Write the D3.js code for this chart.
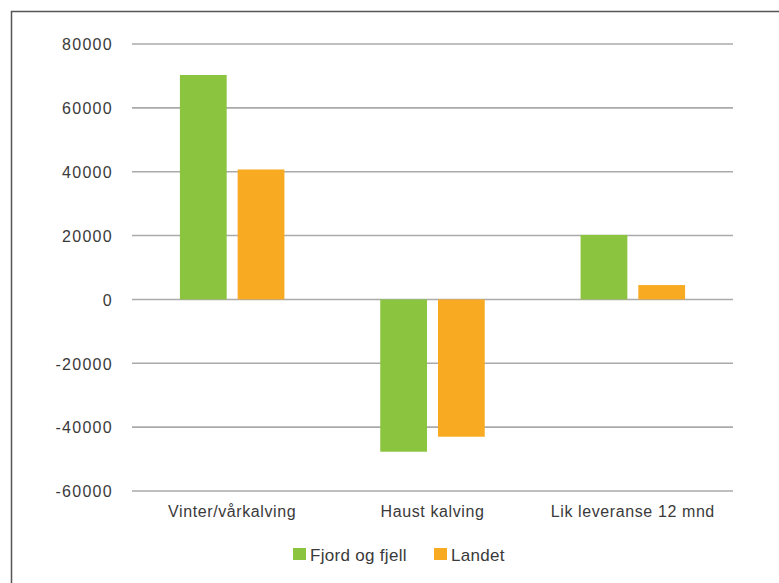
<!DOCTYPE html>
<html>
<head>
<meta charset="utf-8">
<script src="https://cdn.jsdelivr.net/npm/d3@7"></script>
<style>
  body { margin: 0; background: #fff; }
  text { font-family: "Liberation Sans", Helvetica, Arial, sans-serif; fill: #3a3a3a; }
</style>
</head>
<body>
<div id="chart"></div>
<script>
// data
var categories = ["Vinter/vårkalving", "Haust kalving", "Lik leveranse 12 mnd"];
var seriesNames = ["Fjord og fjell", "Landet"];
var fjordOgFjell = [70300, -47700, 20200];
var landet = [40700, -43000, 4500];
var yTicks = [-60000, -40000, -20000, 0, 20000, 40000, 60000, 80000];
var colors = ["#8bc53f", "#f8aa22"];

var W = 779, H = 583;
var plotLeft = 132, plotRight = 733, plotTop = 44, plotBottom = 491;

var svg = d3.select("#chart").append("svg")
    .attr("width", W)
    .attr("height", H);

// outer frame (cut off at right and bottom)
svg.append("path")
    .attr("d", "M11.5," + H + "V11.5H" + W)
    .attr("fill", "none")
    .attr("stroke", "#555")
    .attr("stroke-width", 1.5);

var y = d3.scaleLinear()
    .domain([-60000, 80000])
    .range([plotBottom, plotTop]);

var x0 = d3.scaleBand()
    .domain(categories)
    .range([plotLeft, plotRight])
    .padding(0);

var x1 = d3.scaleBand()
    .domain(seriesNames)
    .range([0, x0.bandwidth()])
    .paddingInner(0.19)
    .paddingOuter(0.83);

// gridlines
svg.append("g").selectAll("line")
    .data(yTicks)
    .join("line")
    .attr("x1", plotLeft)
    .attr("x2", plotRight)
    .attr("y1", d => y(d))
    .attr("y2", d => y(d))
    .attr("stroke", "#aaa")
    .attr("stroke-width", 1.6);

// y labels (plain hyphen for negatives, like the original)
var yAxis = svg.append("g")
    .attr("transform", "translate(" + 113 + ",0)")
    .call(d3.axisLeft(y).tickValues(yTicks).tickSize(0).tickPadding(0).tickFormat(d => String(d)));
yAxis.select(".domain").remove();
yAxis.selectAll("text")
    .style("font-size", "16px")
    .style("letter-spacing", "1.3px")
    .attr("fill", "#3a3a3a")
    .attr("dy", "0.36em");

// bars
var rows = categories.map((c, i) => ({ cat: c, values: [fjordOgFjell[i], landet[i]] }));
var groups = svg.append("g").selectAll("g")
    .data(rows)
    .join("g")
    .attr("transform", d => "translate(" + x0(d.cat) + ",0)");

groups.selectAll("rect")
    .data(d => d.values.map((v, j) => ({ name: seriesNames[j], value: v, j: j })))
    .join("rect")
    .attr("x", d => x1(d.name))
    .attr("width", x1.bandwidth())
    .attr("y", d => y(Math.max(0, d.value)))
    .attr("height", d => Math.abs(y(d.value) - y(0)))
    .attr("fill", d => colors[d.j]);

// category labels
var xAxis = svg.append("g")
    .attr("transform", "translate(0," + 517 + ")")
    .call(d3.axisBottom(x0).tickSize(0).tickPadding(0));
xAxis.select(".domain").remove();
xAxis.selectAll("text")
    .style("font-size", "16px")
    .style("letter-spacing", "0.6px")
    .attr("fill", "#3a3a3a")
    .attr("dy", "0");

// legend
var legendX = [293, 434];
var legend = svg.append("g").selectAll("g")
    .data(seriesNames)
    .join("g")
    .attr("transform", (d, i) => "translate(" + legendX[i] + ",548)");
legend.append("rect")
    .attr("width", 13)
    .attr("height", 12)
    .attr("fill", (d, i) => colors[i]);
legend.append("text")
    .attr("x", 17)
    .attr("y", 12.5)
    .style("font-size", "17px")
    .style("letter-spacing", "0.3px")
    .text(d => d);
</script>
</body>
</html>
